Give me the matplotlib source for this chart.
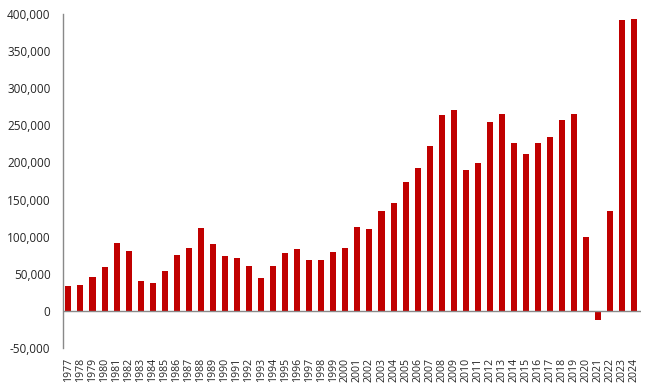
import matplotlib
matplotlib.use("Agg")
import matplotlib.pyplot as plt
from matplotlib.ticker import FuncFormatter, MultipleLocator

years = list(range(1977, 2025))
values = [33700, 34600, 45400, 59700, 92000, 81300, 40400, 38200, 53500, 75000,
          84900, 111400, 90700, 74100, 71800, 60600, 44000, 60600, 78600, 83600,
          69200, 69200, 80000, 84900, 113200, 111000, 134400, 145100, 173400, 192700,
          222800, 263700, 270900, 190400, 199000, 255100, 265100, 226400, 211200, 226400,
          234100, 257000, 265100, 99300, -12100, 134400, 392200, 393500]

plt.rcParams['font.family'] = ['Open Sans', 'DejaVu Sans']

fig = plt.figure(figsize=(6.5, 3.9), dpi=100)
ax = fig.add_axes([63/650, 42/390, (641-63)/650, (348-14)/390])

x = list(range(len(years)))
ax.bar(x, values, width=0.5, color='#C00000', zorder=2)
ax.axhline(0, color='#898989', lw=1.0, zorder=3)

ax.set_ylim(-50000, 400000)
ax.set_xlim(-0.45, len(years) - 0.45)
ax.yaxis.set_major_locator(MultipleLocator(50000))
ax.yaxis.set_major_formatter(FuncFormatter(lambda v, p: f"{int(v):,}"))

for s in ['top', 'right', 'bottom']:
    ax.spines[s].set_visible(False)
ax.spines['left'].set_color('#898989')
ax.spines['left'].set_linewidth(1.0)

ax.set_xticks(x)
ax.set_xticklabels([str(y) for y in years], rotation=90, fontsize=7.6, color='#262626')
ax.tick_params(axis='x', length=0, pad=7)
ax.tick_params(axis='y', length=0, pad=9, labelsize=8.5, labelcolor='#262626')

fig.savefig('out.png', dpi=100)
